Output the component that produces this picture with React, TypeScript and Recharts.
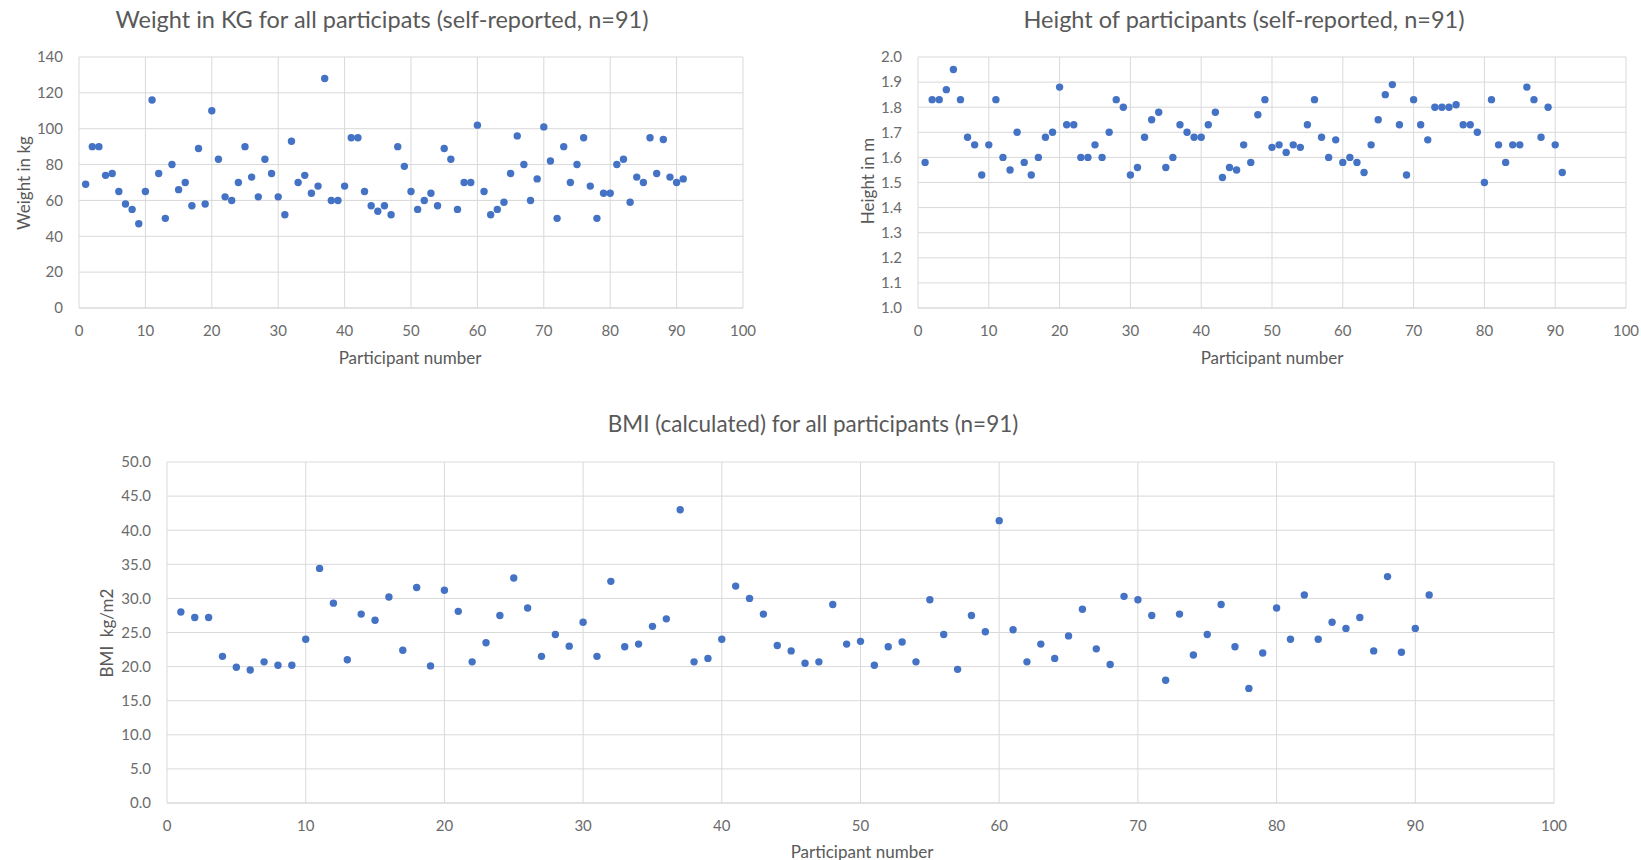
import { ScatterChart, Scatter, XAxis, YAxis, CartesianGrid } from "recharts"

// participant numbers, 1..91
const participants = [
  1, 2, 3, 4, 5, 6, 7, 8, 9, 10, 11, 12, 13, 14, 15, 16, 17, 18, 19, 20,
  21, 22, 23, 24, 25, 26, 27, 28, 29, 30, 31, 32, 33, 34, 35, 36, 37, 38, 39, 40,
  41, 42, 43, 44, 45, 46, 47, 48, 49, 50, 51, 52, 53, 54, 55, 56, 57, 58, 59, 60,
  61, 62, 63, 64, 65, 66, 67, 68, 69, 70, 71, 72, 73, 74, 75, 76, 77, 78, 79, 80,
  81, 82, 83, 84, 85, 86, 87, 88, 89, 90, 91,
]

const weightKg = [
  69, 90, 90, 74, 75, 65, 58, 55, 47, 65,
  116, 75, 50, 80, 66, 70, 57, 89, 58, 110,
  83, 62, 60, 70, 90, 73, 62, 83, 75, 62,
  52, 93, 70, 74, 64, 68, 128, 60, 60, 68,
  95, 95, 65, 57, 54, 57, 52, 90, 79, 65,
  55, 60, 64, 57, 89, 83, 55, 70, 70, 102,
  65, 52, 55, 59, 75, 96, 80, 60, 72, 101,
  82, 50, 90, 70, 80, 95, 68, 50, 64, 64,
  80, 83, 59, 73, 70, 95, 75, 94, 73, 70,
  72,
]

const heightM = [
  1.58, 1.83, 1.83, 1.87, 1.95, 1.83, 1.68, 1.65, 1.53, 1.65,
  1.83, 1.6, 1.55, 1.7, 1.58, 1.53, 1.6, 1.68, 1.7, 1.88,
  1.73, 1.73, 1.6, 1.6, 1.65, 1.6, 1.7, 1.83, 1.8, 1.53,
  1.56, 1.68, 1.75, 1.78, 1.56, 1.6, 1.73, 1.7, 1.68, 1.68,
  1.73, 1.78, 1.52, 1.56, 1.55, 1.65, 1.58, 1.77, 1.83, 1.64,
  1.65, 1.62, 1.65, 1.64, 1.73, 1.83, 1.68, 1.6, 1.67, 1.58,
  1.6, 1.58, 1.54, 1.65, 1.75, 1.85, 1.89, 1.73, 1.53, 1.83,
  1.73, 1.67, 1.8, 1.8, 1.8, 1.81, 1.73, 1.73, 1.7, 1.5,
  1.83, 1.65, 1.58, 1.65, 1.65, 1.88, 1.83, 1.68, 1.8, 1.65,
  1.54,
]

const bmi = [
  28.0, 27.2, 27.2, 21.5, 19.9, 19.5, 20.7, 20.2, 20.2, 24.0,
  34.4, 29.3, 21.0, 27.7, 26.8, 30.2, 22.4, 31.6, 20.1, 31.2,
  28.1, 20.7, 23.5, 27.5, 33.0, 28.6, 21.5, 24.7, 23.0, 26.5,
  21.5, 32.5, 22.9, 23.3, 25.9, 27.0, 43.0, 20.7, 21.2, 24.0,
  31.8, 30.0, 27.7, 23.1, 22.3, 20.5, 20.7, 29.1, 23.3, 23.7,
  20.2, 22.9, 23.6, 20.7, 29.8, 24.7, 19.6, 27.5, 25.1, 41.4,
  25.4, 20.7, 23.3, 21.2, 24.5, 28.4, 22.6, 20.3, 30.3, 29.8,
  27.5, 18.0, 27.7, 21.7, 24.7, 29.1, 22.9, 16.8, 22.0, 28.6,
  24.0, 30.5, 24.0, 26.5, 25.6, 27.2, 22.3, 33.2, 22.1, 25.6,
  30.5,
]

const participantTicks = [0, 10, 20, 30, 40, 50, 60, 70, 80, 90, 100]
const weightTicks = [0, 20, 40, 60, 80, 100, 120, 140]
const heightTicks = [1.0, 1.1, 1.2, 1.3, 1.4, 1.5, 1.6, 1.7, 1.8, 1.9, 2.0]
const bmiTicks = [0, 5, 10, 15, 20, 25, 30, 35, 40, 45, 50]

const FONT = "Lato, 'Open Sans', sans-serif"
const GREY = "#595959"
const TICK_GREY = "#6b6b6b"
const GRID = "#d9d9d9"
const DOT = "#4472C4"

const toRows = (values: number[]) =>
  participants.map((p, i) => ({ participant: p, value: values[i] }))

const dot = (p: any) => <circle cx={p.cx} cy={p.cy} r={3.7} fill={DOT} />

type PanelProps = {
  left: number
  top: number
  width: number
  height: number
  margin: { top: number; right: number }
  yWidth: number
  xHeight: number
  values: number[]
  yDomain: [number, number]
  yTicks: number[]
  yFormat?: (v: number) => string
}

function Panel(props: PanelProps) {
  const { left, top, width, height, margin, yWidth, xHeight, values, yDomain, yTicks, yFormat } = props
  const tick = { fill: TICK_GREY, fontSize: 15, fontFamily: FONT }
  return (
    <div style={{ position: "absolute", left, top }}>
      <ScatterChart width={width} height={height} margin={{ top: margin.top, right: margin.right, left: 0, bottom: 0 }}>
        <CartesianGrid stroke={GRID} strokeWidth={1} />
        <XAxis
          type="number"
          dataKey="participant"
          domain={[0, 100]}
          ticks={participantTicks}
          height={xHeight}
          tickSize={0}
          tickMargin={17}
          axisLine={{ stroke: GRID }}
          tick={tick}
          interval={0}
        />
        <YAxis
          type="number"
          dataKey="value"
          domain={yDomain}
          ticks={yTicks}
          width={yWidth}
          tickSize={0}
          tickMargin={16}
          axisLine={false}
          tick={tick}
          interval={0}
          tickFormatter={yFormat}
        />
        <Scatter data={toRows(values)} shape={dot} isAnimationActive={false} />
      </ScatterChart>
    </div>
  )
}

function Caption({ x, y, text, size, rotate }: { x: number; y: number; text: string; size: number; rotate?: boolean }) {
  return (
    <div
      style={{
        position: "absolute",
        left: x,
        top: y,
        transform: `translate(-50%, -50%)${rotate ? " rotate(-90deg)" : ""}`,
        whiteSpace: "pre",
        fontFamily: FONT,
        fontSize: size,
        color: GREY,
        lineHeight: 1,
      }}
    >
      {text}
    </div>
  )
}

export default function App() {
  return (
    <div style={{ position: "absolute", left: 0, top: 0, width: 1641, height: 860, background: "#fff", overflow: "hidden" }}>
      <Panel
        left={0}
        top={0}
        width={780}
        height={370}
        margin={{ top: 57, right: 37 }}
        yWidth={79}
        xHeight={62}
        values={weightKg}
        yDomain={[0, 140]}
        yTicks={weightTicks}
      />
      <Caption x={382} y={20} text="Weight in KG for all participats (self-reported, n=91)" size={23.5} />
      <Caption x={23} y={183} text="Weight in kg" size={17} rotate />
      <Caption x={410} y={357} text="Participant number" size={17} />

      <Panel
        left={850}
        top={0}
        width={791}
        height={370}
        margin={{ top: 57, right: 15 }}
        yWidth={68}
        xHeight={62}
        values={heightM}
        yDomain={[1, 2]}
        yTicks={heightTicks}
        yFormat={(v) => v.toFixed(1)}
      />
      <Caption x={1244} y={20} text="Height of participants (self-reported, n=91)" size={23.5} />
      <Caption x={867} y={181} text="Height in m" size={17} rotate />
      <Caption x={1272} y={357} text="Participant number" size={17} />

      <Panel
        left={90}
        top={420}
        width={1500}
        height={440}
        margin={{ top: 42, right: 36 }}
        yWidth={77}
        xHeight={57}
        values={bmi}
        yDomain={[0, 50]}
        yTicks={bmiTicks}
        yFormat={(v) => v.toFixed(1)}
      />
      <Caption x={813} y={424} text="BMI (calculated) for all participants (n=91)" size={22.5} />
      <Caption x={106} y={633} text="BMI  kg/m2" size={17} rotate />
      <Caption x={862} y={851} text="Participant number" size={17} />
    </div>
  )
}
